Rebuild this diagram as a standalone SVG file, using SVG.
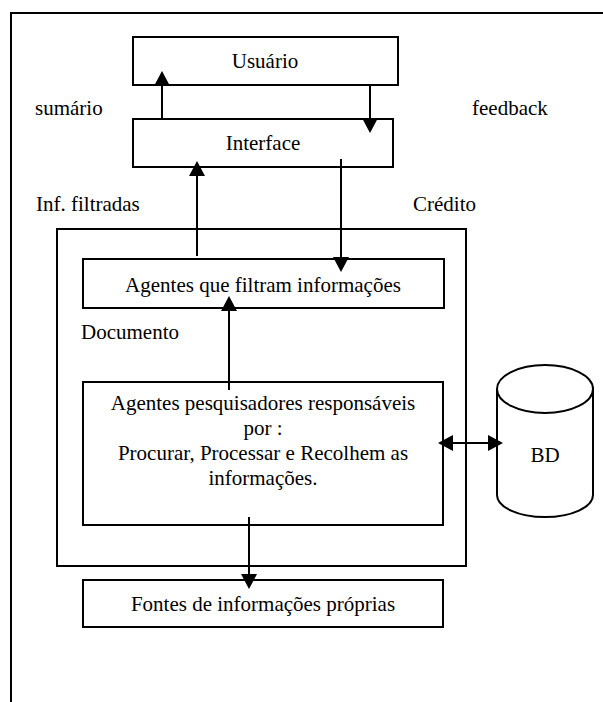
<svg xmlns="http://www.w3.org/2000/svg" width="603" height="702" viewBox="0 0 603 702">
  <defs>
    <style>
      .box { fill: #ffffff; stroke: #000000; stroke-width: 2; }
      .frame { fill: none; stroke: #000000; stroke-width: 2; }
      .lbl { font-family: "Liberation Serif", "Times New Roman", serif; font-size: 21px; fill: #000000; }
      .mid { text-anchor: middle; }
      .conn { fill: none; stroke: #000000; stroke-width: 2; }
      .arr { marker-end: url(#head); }
    </style>
    <!-- filled triangular arrowhead, drawn forward from the line end -->
    <marker id="head" markerUnits="userSpaceOnUse" markerWidth="18" markerHeight="18" refX="0" refY="9" orient="auto-start-reverse" overflow="visible">
      <path d="M0,1 L15,9 L0,17 Z" fill="#000000"/>
    </marker>
  </defs>

  <rect width="603" height="702" fill="#ffffff"/>

  <!-- page frame, running off the right and bottom edges -->
  <path class="frame" d="M11,702 V13 H604"/>

  <!-- agents container -->
  <g id="container">
    <rect class="frame" x="57" y="229" width="409" height="337"/>
  </g>

  <g id="usuario">
    <rect class="box" x="133" y="37" width="265" height="48"/>
    <text class="lbl mid" x="265" y="68">Usuário</text>
  </g>

  <g id="interface">
    <rect class="box" x="133" y="119" width="260" height="48"/>
    <text class="lbl mid" x="263" y="150">Interface</text>
  </g>

  <g id="filtro">
    <rect class="box" x="83" y="259" width="361" height="49"/>
    <text class="lbl mid" x="263" y="292">Agentes que filtram informações</text>
  </g>

  <g id="pesquisadores">
    <rect class="box" x="83" y="382" width="360" height="143"/>
    <text class="lbl mid" x="263" y="410">Agentes pesquisadores responsáveis</text>
    <text class="lbl mid" x="263" y="435">por :</text>
    <text class="lbl mid" x="263" y="460">Procurar, Processar e Recolhem as</text>
    <text class="lbl mid" x="263" y="485">informações.</text>
  </g>

  <g id="fontes">
    <rect class="box" x="83" y="580" width="360" height="47"/>
    <text class="lbl mid" x="263" y="611">Fontes de informações próprias</text>
  </g>

  <g id="bd">
    <path class="box" d="M497,389 V495 A48,22 0 0 0 593,495 V389"/>
    <ellipse class="box" cx="545" cy="389" rx="48" ry="24"/>
    <text class="lbl mid" x="545" y="462">BD</text>
  </g>

  <!-- connector labels -->
  <g id="labels">
    <text class="lbl" x="35" y="115">sumário</text>
    <text class="lbl" x="472" y="115">feedback</text>
    <text class="lbl" x="36" y="211">Inf. filtradas</text>
    <text class="lbl" x="413" y="211">Crédito</text>
    <text class="lbl" x="81" y="339">Documento</text>
  </g>

  <g id="connectors">
    <line class="conn arr" x1="162" y1="119" x2="162" y2="86"/>
    <line class="conn arr" x1="370" y1="85" x2="370" y2="118"/>
    <line class="conn arr" x1="197" y1="256" x2="197" y2="176"/>
    <line class="conn arr" x1="341" y1="159" x2="341" y2="257"/>
    <line class="conn arr" x1="229" y1="390" x2="229" y2="311"/>
    <line class="conn arr" x1="249" y1="517" x2="249" y2="574"/>
    <line class="conn" x1="453" y1="443" x2="488" y2="443" marker-start="url(#head)" marker-end="url(#head)"/>
  </g>
</svg>
